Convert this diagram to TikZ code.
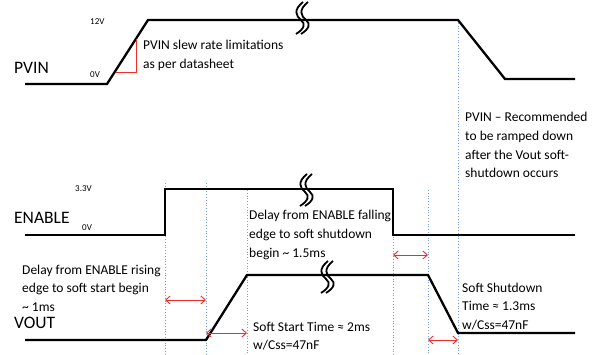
\documentclass[tikz,border=0pt]{standalone}
\usepackage{fontspec}
\setmainfont{Carlito}
\usetikzlibrary{arrows.meta}
\definecolor{guideblue}{RGB}{120,160,215}
\definecolor{arrred}{RGB}{240,45,45}
\begin{document}
\begin{tikzpicture}[x=1pt,y=-1pt,
  sig/.style={line width=2.3pt, line join=miter},
  guide/.style={draw=guideblue, line width=0.8pt, dotted},
  redarr/.style={draw=arrred, line width=0.9pt, {Straight Barb[length=4.5pt,width=8pt]}-{Straight Barb[length=4.5pt,width=8pt]}},
  txt/.style={anchor=base west, inner sep=0pt, align=left, font=\fontsize{13.5}{18.7}\selectfont},
  biglbl/.style={anchor=base west, inner sep=0pt, font=\fontsize{17.5}{20}\selectfont},
  smalllbl/.style={anchor=base west, inner sep=0pt, font=\fontsize{9}{11}\selectfont},
  brk/.pic={
    \draw[line width=1.8pt] (3,-16) .. controls (-7,-8) and (-4,-2) .. (1,2) .. controls (6,6) and (4,11) .. (-4,16);
    \draw[line width=1.8pt] (8,-16) .. controls (-2,-8) and (1,-2) .. (6,2) .. controls (11,6) and (9,11) .. (1,16);
  }]
\useasboundingbox (0,0) rectangle (605,355);

% coordinates
\coordinate (p0) at (25,84);  \coordinate (p1) at (107,84);
\coordinate (p2) at (148,20); \coordinate (p3) at (458,20);
\coordinate (p4) at (505,79); \coordinate (p5) at (575,79);
\coordinate (e0) at (25,235); \coordinate (e1) at (165,235);
\coordinate (e2) at (165,189); \coordinate (e3) at (393,189);
\coordinate (e4) at (393,235); \coordinate (e5) at (575,235);
\coordinate (v0) at (25,340); \coordinate (v1) at (206,340);
\coordinate (v2) at (247,275); \coordinate (v3) at (428,275);
\coordinate (v4) at (458,333); \coordinate (v5) at (575,333);

% guide lines
\coordinate (g1t) at (165,183); \coordinate (g1b) at (165,355);
\coordinate (g2t) at (206,183); \coordinate (g2b) at (206,355);
\coordinate (g3t) at (247,190); \coordinate (g3b) at (247,355);
\coordinate (g4t) at (393,189); \coordinate (g4b) at (393,355);
\coordinate (g5t) at (428,190); \coordinate (g5b) at (428,355);
\coordinate (g6t) at (458,20);  \coordinate (g6b) at (458,355);
\foreach \i in {1,...,6} {\draw[guide] (g\i t) -- (g\i b);}

% signals
\draw[sig] (p0) -- (p1) -- (p2) -- (p3) -- (p4) -- (p5);
\draw[sig] (e0) -- (e1) -- (e2) -- (e3) -- (e4) -- (e5);
\draw[sig] (v0) -- (v1) -- (v2) -- (v3) -- (v4) -- (v5);

% breaks
\pic at (300,18) {brk};
\pic at (304,190) {brk};
\pic at (325,277) {brk};

% red slew triangle
\coordinate (r0) at (116,72); \coordinate (r1) at (136,72); \coordinate (r2) at (136,39);
\draw[arrred, line width=0.9pt] (r0) -- (r1) -- (r2);

% red arrows
\coordinate (a1l) at (165,300); \coordinate (a1r) at (206,300);
\coordinate (a2l) at (206,333); \coordinate (a2r) at (247,333);
\coordinate (a3l) at (393,255); \coordinate (a3r) at (428,255);
\coordinate (a4l) at (428,340); \coordinate (a4r) at (458,340);
\draw[redarr] (a1l) -- (a1r);
\draw[redarr] (a2l) -- (a2r);
\draw[redarr] (a3l) -- (a3r);
\draw[redarr] (a4l) -- (a4r);

% labels
\node[biglbl] (lpvin) at (14,74) {PVIN};
\node[biglbl] (len) at (14,224) {ENABLE};
\node[biglbl] (lvout) at (14,329) {VOUT};
\node[smalllbl] (l12) at (90,25) {12V};
\node[smalllbl] (l0a) at (90,78) {0V};
\node[smalllbl] (l33) at (75,192) {3.3V};
\node[smalllbl] (l0b) at (82,231) {0V};

% multi-line texts: base anchor is the last line's baseline
\node[txt] (t1) at (143,68.7) {PVIN slew rate limitations\\as per datasheet};
\node[txt] (t2) at (465,178) {PVIN – Recommended\\to be ramped down\\after the Vout soft-\\shutdown occurs};
\node[txt] (t3) at (249,257.4) {Delay from ENABLE falling\\edge to soft shutdown\\begin \textasciitilde{} 1.5ms};
\node[txt] (t4) at (22,311.4) {Delay from ENABLE rising\\edge to soft start begin\\\textasciitilde{} 1ms};
\node[txt] (t5) at (253,349.7) {Soft Start Time ≈ 2ms\\w/Css=47nF};
\node[txt] (t6) at (462,329.4) {Soft Shutdown\\Time ≈ 1.3ms\\w/Css=47nF};
\end{tikzpicture}
\end{document}
